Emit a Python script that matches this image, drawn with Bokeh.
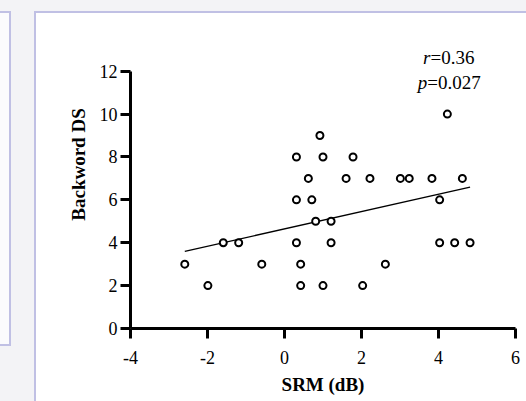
import numpy as np
from bokeh.plotting import figure
from bokeh.models import FixedTicker, Label, ColumnDataSource
from bokeh.embed import file_html
from bokeh.resources import INLINE

# ---- data ----
srm = [0.92, 0.31, 1.00, 1.78, 0.62, 1.60, 0.31, 0.71, 0.81, 1.21,
       -1.59, -1.19, 0.31, 1.21, -2.59, -0.59, 0.42, -1.99, 0.42, 1.00,
       4.23, 2.22, 3.01, 3.24, 3.83, 4.62, 4.03, 4.03, 4.42, 4.82,
       2.62, 2.03]
backward_ds = [9, 8, 8, 8, 7, 7, 6, 6, 5, 5,
               4, 4, 4, 4, 3, 3, 3, 2, 2, 2,
               10, 7, 7, 7, 7, 7, 6, 4, 4, 4,
               3, 2]
x_ticks = [-4, -2, 0, 2, 4, 6]
y_ticks = [0, 2, 4, 6, 8, 10, 12]
x_label = "SRM (dB)"
y_label = "Backword DS"
r_value = "=0.36"
p_value = "=0.027"

SERIF = "Liberation Serif"
PAGE_BG = "#f3f3f6"
PANEL_LINE = "#c0c0e4"

# page decoration (grey page, bordered white panels) painted behind a transparent canvas
page_css = (
    "linear-gradient(#ffffff,#ffffff) 36px 13px / 600px 500px no-repeat, "
    f"linear-gradient({PANEL_LINE},{PANEL_LINE}) 34px 11px / 600px 500px no-repeat, "
    "linear-gradient(#fbfbfd,#fbfbfd) 0px 13px / 9px 331px no-repeat, "
    f"linear-gradient({PANEL_LINE},{PANEL_LINE}) 0px 11px / 11px 335px no-repeat, "
    f"{PAGE_BG}"
)

W, H = 526, 401
FRAME_LEFT, FRAME_RIGHT, FRAME_BOTTOM = 130, 515, 328
PX_PER_Y = (328.3 - 71.0) / 12.0
y_top = (FRAME_BOTTOM / PX_PER_Y)

p = figure(width=W, height=H, x_range=(-4, 6), y_range=(0, y_top),
           output_backend="svg", toolbar_location=None,
           min_border_left=FRAME_LEFT, min_border_right=W - FRAME_RIGHT,
           min_border_top=0, min_border_bottom=H - FRAME_BOTTOM,
           background_fill_alpha=0, border_fill_alpha=0,
           outline_line_color=None,
           styles={"background": page_css})
p.grid.visible = False

for ax in (p.xaxis[0], p.yaxis[0]):
    ax.axis_line_width = 3
    ax.axis_line_color = "black"
    ax.major_tick_line_width = 3
    ax.major_tick_line_color = "black"
    ax.major_tick_out = 10
    ax.major_tick_in = 0
    ax.minor_tick_out = 0
    ax.minor_tick_in = 0
    ax.major_label_text_font = SERIF
    ax.major_label_text_font_size = "18px"
    ax.major_label_text_color = "black"
    ax.major_label_text_line_height = 1.0
    ax.axis_label_text_font = SERIF
    ax.axis_label_text_font_size = "19px"
    ax.axis_label_text_font_style = "bold"
    ax.axis_label_text_color = "black"
    ax.axis_label_text_line_height = 1.0

p.xaxis.ticker = FixedTicker(ticks=x_ticks)
p.yaxis.ticker = FixedTicker(ticks=y_ticks)
p.yaxis.bounds = (y_ticks[0], y_ticks[-1])
p.xaxis.major_label_overrides = {t: str(t) for t in x_ticks}
p.xaxis.axis_label = x_label
p.yaxis.axis_label = y_label
p.xaxis.major_label_standoff = 12
p.yaxis.major_label_standoff = 3
p.xaxis.axis_label_standoff = 7
p.yaxis.axis_label_standoff = 8

# regression line
xs = np.array(srm, dtype=float)
ys = np.array(backward_ds, dtype=float)
slope, intercept = np.polyfit(xs, ys, 1)
fx = np.array([xs.min(), xs.max()])
p.line(fx, slope * fx + intercept, line_color="black", line_width=1.3)

src = ColumnDataSource(dict(x=srm, y=backward_ds))
p.scatter("x", "y", source=src, marker="circle", size=7,
          fill_color="white", line_color="black", line_width=2)

# statistics text
for yy, sym, val, xx in ((12.62, "r", r_value, 3.79), (11.45, "p", p_value, 3.71)):
    p.add_layout(Label(x=xx, y=yy, text=sym, text_align="right",
                       text_baseline="alphabetic",
                       text_font=SERIF, text_font_style="italic",
                       text_font_size="19px", text_color="black"))
    p.add_layout(Label(x=xx, y=yy, text=val, text_align="left",
                       text_baseline="alphabetic",
                       text_font=SERIF, text_font_size="19px", text_color="black"))

open("out.html", "w").write(file_html(p, INLINE))
